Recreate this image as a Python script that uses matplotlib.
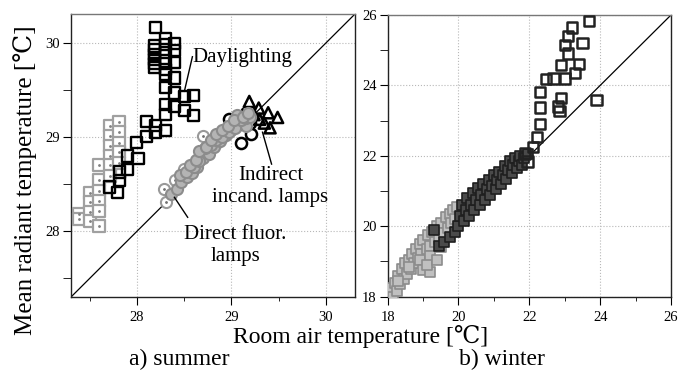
import matplotlib
matplotlib.use("Agg")
import matplotlib.pyplot as plt
from matplotlib.ticker import MultipleLocator

plt.rcParams['font.family'] = ['Liberation Serif', 'DejaVu Serif']

# ---- summer data ----
# daylighting (black open squares)
day_x = [28.20, 28.19, 28.19, 28.19, 28.19, 28.19, 28.19,
         28.30, 28.30, 28.30, 28.30, 28.30, 28.30, 28.30, 28.30, 28.30, 28.30,
         28.40, 28.40, 28.40, 28.40, 28.40, 28.40,
         28.50, 28.60, 28.50, 28.60,
         28.10, 28.20, 28.20, 28.10, 27.99, 27.90, 28.01, 27.90, 27.81, 27.81, 27.71, 27.79]
day_y = [30.17, 29.97, 29.93, 29.88, 29.83, 29.78, 29.74,
         30.05, 29.99, 29.90, 29.81, 29.72, 29.67, 29.53, 29.35, 29.24, 29.07,
         30.00, 29.92, 29.79, 29.63, 29.47, 29.33,
         29.43, 29.44, 29.28, 29.23,
         29.17, 29.12, 29.05, 29.01, 28.94, 28.80, 28.77, 28.66, 28.63, 28.54, 28.47, 28.41]
# daylighting, second group (grey squares)
dayg_x = [27.39, 27.39,
          27.50, 27.50, 27.50, 27.50,
          27.60, 27.60, 27.60, 27.60, 27.60, 27.60,
          27.71, 27.71, 27.71, 27.71, 27.71, 27.71,
          27.81, 27.81, 27.81, 27.81, 27.81]
dayg_y = [28.18, 28.13,
          28.41, 28.31, 28.20, 28.11,
          28.70, 28.54, 28.43, 28.32, 28.22, 28.06,
          29.12, 29.01, 28.91, 28.80, 28.70, 28.59,
          29.16, 29.05, 28.94, 28.84, 28.73]
# direct fluorescent lamps (grey circles)
fluor_x = [28.36, 28.42, 28.47, 28.53, 28.58, 28.64, 28.70, 28.76, 28.82,
           28.88, 28.94, 29.00, 29.08, 29.15, 28.46, 28.52, 28.60, 28.66,
           28.72, 28.78, 28.84, 28.90, 28.98, 29.04, 29.10, 29.16, 29.20, 29.06,
           28.56, 28.62, 28.66, 28.73, 28.78, 28.84, 28.90, 28.96, 29.03, 29.12, 29.18]
fluor_y = [28.40, 28.45, 28.52, 28.58, 28.62, 28.68, 28.78, 28.82, 28.90,
           28.96, 29.02, 29.08, 29.15, 29.12, 28.60, 28.63, 28.68, 28.75,
           28.88, 28.92, 28.97, 29.00, 29.06, 29.10, 29.18, 29.20, 29.22, 29.24,
           28.70, 28.76, 28.85, 28.90, 28.97, 29.03, 29.08, 29.12, 29.18, 29.22, 29.26]
# direct fluorescent lamps, open circles on the edge of the band
fluor_open_x = [28.31, 28.29, 28.40, 28.50, 28.70]
fluor_open_y = [28.31, 28.45, 28.55, 28.66, 29.01]
# black circles
circ_x = [28.98, 29.10, 29.21, 29.15, 29.05, 29.20]
circ_y = [29.19, 28.94, 29.03, 29.21, 29.12, 29.15]
# indirect incandescent lamps (triangles)
tri_x = [29.19, 29.29, 29.39, 29.49, 29.41, 29.30, 29.24, 29.12, 29.35]
tri_y = [29.38, 29.31, 29.26, 29.21, 29.10, 29.19, 29.24, 29.24, 29.15]

# ---- winter data ----
wl_x = [18.05, 18.10, 18.15, 18.20, 18.25, 18.30, 18.35, 18.40, 18.45, 18.50,
        18.55, 18.60, 18.65, 18.70, 18.75, 18.80, 18.85, 18.90, 18.95, 19.00,
        19.10, 19.15, 19.20, 19.25, 19.35, 19.40, 19.45, 19.50, 19.60, 19.65,
        19.70, 19.75, 19.80, 19.85, 19.90, 19.95, 18.30, 18.60, 18.90, 19.20,
        19.50, 19.00, 19.20, 19.10, 19.40]
wl_y = [18.05, 18.25, 18.00, 18.40, 18.15, 18.60, 18.35, 18.80, 18.50, 18.95,
        18.65, 19.05, 18.80, 19.20, 18.95, 19.35, 19.10, 19.50, 19.20, 19.60,
        19.35, 19.75, 19.45, 19.85, 19.55, 20.00, 19.65, 20.10, 19.80, 20.25,
        19.95, 20.35, 20.10, 20.45, 20.20, 20.55, 18.45, 18.85, 19.05, 19.15,
        19.40, 18.75, 18.70, 18.90, 19.05]
wd_x = [19.30, 19.45, 19.60, 19.75, 19.90, 20.00, 20.05, 20.10, 20.15, 20.20,
        20.25, 20.30, 20.35, 20.40, 20.45, 20.50, 20.55, 20.60, 20.65, 20.70,
        20.75, 20.80, 20.85, 20.90, 20.95, 21.00, 21.05, 21.10, 21.15, 21.20,
        21.25, 21.30, 21.35, 21.40, 21.45, 21.50, 21.55, 21.60, 21.65, 21.70,
        21.75, 21.80, 21.85, 21.95]
wd_y = [19.90, 19.45, 19.55, 19.70, 19.85, 20.00, 20.30, 20.60, 20.15, 20.45,
        20.80, 20.30, 20.60, 20.95, 20.45, 20.75, 21.10, 20.60, 20.90, 21.20,
        20.75, 21.05, 21.30, 20.90, 21.15, 21.45, 21.05, 21.30, 21.55, 21.20,
        21.45, 21.70, 21.35, 21.60, 21.85, 21.50, 21.75, 21.95, 21.65, 21.85,
        22.00, 21.75, 21.95, 22.05]
wo_x = [23.69, 23.20, 23.10, 23.01, 23.50, 23.10, 22.90, 23.40, 23.29, 22.47,
        22.68, 23.01, 22.30, 22.90, 22.30, 22.82, 22.85, 23.90, 22.30, 22.21,
        22.11, 21.88, 21.95]
wo_y = [25.84, 25.65, 25.41, 25.15, 25.20, 24.91, 24.58, 24.61, 24.35, 24.18,
        24.20, 24.20, 23.82, 23.65, 23.37, 23.40, 23.28, 23.59, 22.90, 22.53,
        22.26, 22.07, 21.84]

sum_ticks = [28, 29, 30]
win_ticks = [18, 20, 22, 24, 26]

fig = plt.figure(figsize=(6.91, 3.76), dpi=100)
ax1 = fig.add_axes([0.1027, 0.210, 0.411, 0.7527])
ax2 = fig.add_axes([0.561, 0.211, 0.410, 0.749])

# summer panel
ax1.plot([27.3, 30.31], [27.3, 30.31], color='black', lw=0.9, zorder=2)
ax1.scatter(dayg_x, dayg_y, marker='s', s=64, facecolor='white', edgecolor='#a0a0a0', lw=1.6, zorder=3)
ax1.scatter(dayg_x, dayg_y, marker='.', s=4, color='#808080', zorder=3)
ax1.scatter(day_x, day_y, marker='s', s=64, facecolor='none', edgecolor='black', lw=1.7, zorder=4)
ax1.scatter(circ_x, circ_y, marker='o', s=64, facecolor='white', edgecolor='black', lw=1.8, zorder=3)
ax1.scatter(tri_x, tri_y, marker='^', s=64, facecolor='none', edgecolor='black', lw=1.8, zorder=3)
ax1.scatter(fluor_open_x, fluor_open_y, marker='o', s=64, facecolor='white', edgecolor='#999999', lw=1.5, zorder=4)
ax1.scatter(fluor_open_x, fluor_open_y, marker='.', s=4, color='#707070', zorder=4)
ax1.scatter(fluor_x, fluor_y, marker='o', s=64, facecolor='#b4b4b4', edgecolor='#8c8c8c', lw=1.5, zorder=4)

ax1.plot([28.502, 28.587], [29.488, 29.856], color='black', lw=1.0, zorder=5)
ax1.text(29.113, 29.848, 'Daylighting', ha='center', va='center', fontsize=15)
ax1.plot([29.330, 29.426], [29.053, 28.714], color='black', lw=1.0, zorder=5)
ax1.text(29.415, 28.475, 'Indirect\nincand. lamps', ha='center', va='center',
         fontsize=15, linespacing=1.2)
ax1.plot([28.396, 28.537], [28.361, 28.148], color='black', lw=1.0, zorder=5)
ax1.text(29.044, 27.849, 'Direct fluor.\nlamps', ha='center', va='center',
         fontsize=15, linespacing=1.2)

ax1.set_xlim(27.3, 30.31)
ax1.set_ylim(27.3, 30.31)
ax1.set_xticks(sum_ticks)
ax1.set_yticks(sum_ticks)
ax1.xaxis.set_minor_locator(MultipleLocator(0.5))
ax1.yaxis.set_minor_locator(MultipleLocator(0.5))

# winter panel
ax2.plot([18, 26], [18, 26], color='black', lw=0.9, zorder=2)
ax2.scatter(wl_x, wl_y, marker='s', s=50, facecolor='#c0c0c0', edgecolor='#8c8c8c', lw=1.2, zorder=3)
ax2.scatter(wd_x, wd_y, marker='s', s=50, facecolor='#4a4a4a', edgecolor='#1e1e1e', lw=1.2, zorder=3)
ax2.scatter(wo_x, wo_y, marker='s', s=55, facecolor='none', edgecolor='#222222', lw=1.8, zorder=3)
ax2.set_xlim(18, 26)
ax2.set_ylim(18, 26)
ax2.set_xticks(win_ticks)
ax2.set_yticks(win_ticks)
ax2.xaxis.set_minor_locator(MultipleLocator(1))
ax2.yaxis.set_minor_locator(MultipleLocator(1))

for ax in (ax1, ax2):
    ax.grid(True, which='major', color='#b8b8b8', linestyle=':', lw=0.8)
    ax.set_axisbelow(True)
    ax.tick_params(which='both', direction='out', top=False, right=False, labelsize=10.5)
    ax.tick_params(axis='x', which='major', length=6, pad=4)
    ax.tick_params(axis='x', which='minor', length=3)
    ax.tick_params(axis='y', which='both', length=6, pad=2)
    for s in ax.spines.values():
        s.set_color('#222222')
        s.set_linewidth(1.0)
    ax.spines['top'].set_color('#777777')

fig.text(0.522, 0.089, 'Room air temperature [℃]', ha='center', va='baseline', fontsize=17)
fig.text(0.036, 0.521, 'Mean radiant temperature [℃]', ha='center', va='center',
         rotation=90, fontsize=18)
fig.text(0.259, 0.030, 'a) summer', ha='center', va='baseline', fontsize=17)
fig.text(0.727, 0.030, 'b) winter', ha='center', va='baseline', fontsize=17)

fig.savefig('out.png', dpi=100)
